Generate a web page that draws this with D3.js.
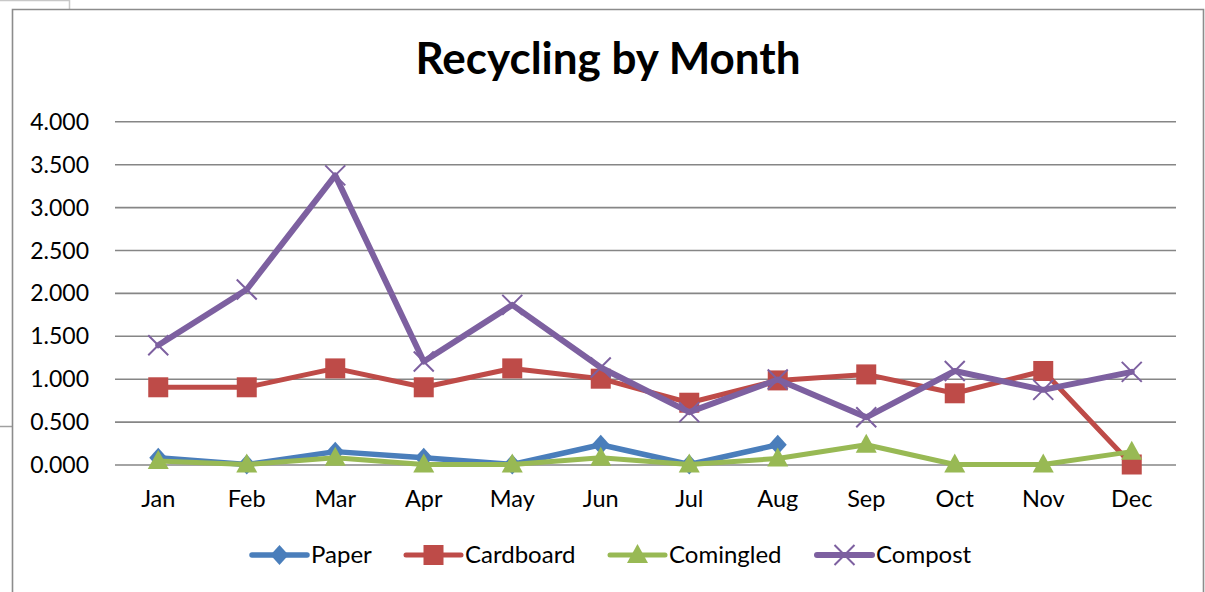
<!DOCTYPE html>
<html><head><meta charset="utf-8">
<script src="https://cdn.jsdelivr.net/npm/d3@7"></script>
<style>html,body{margin:0;padding:0;background:#fff;overflow:hidden}</style>
</head><body>
<svg id="c" width="1205" height="592"></svg>
<script>
const months = ["Jan","Feb","Mar","Apr","May","Jun","Jul","Aug","Sep","Oct","Nov","Dec"];
const paper     = [0.08, 0.00, 0.15, 0.08, 0.00, 0.23, 0.00, 0.23, null, null, null, null];
const cardboard = [0.90, 0.90, 1.12, 0.90, 1.12, 1.00, 0.72, 0.98, 1.05, 0.83, 1.09, 0.00];
const comingled = [0.04, 0.00, 0.08, 0.00, 0.00, 0.08, 0.00, 0.07, 0.23, 0.00, 0.00, 0.15];
const compost   = [1.39, 2.04, 3.37, 1.20, 1.86, 1.13, 0.61, 0.99, 0.55, 1.09, 0.87, 1.08];
const yTicks = [0, 0.5, 1, 1.5, 2, 2.5, 3, 3.5, 4];
const seriesNames = ["Paper","Cardboard","Comingled","Compost"];

const series = [
  {name: seriesNames[0], values: paper,     color: "#4a7ebb", marker: "diamond",  width: 5.5},
  {name: seriesNames[1], values: cardboard, color: "#be4b48", marker: "square",   width: 5},
  {name: seriesNames[2], values: comingled, color: "#98b954", marker: "triangle", width: 5},
  {name: seriesNames[3], values: compost,   color: "#7d60a0", marker: "x",        width: 6}
];

const svg = d3.select("#c");
const font = "Lato, 'Open Sans', sans-serif";

// outer decorations
svg.append("path").attr("d","M0,0.5H69.5V9").attr("fill","none").attr("stroke","#c8c8c8").attr("stroke-width",1.5);
svg.append("line").attr("x1",0).attr("x2",12).attr("y1",426.5).attr("y2",426.5).attr("stroke","#a0a0a0").attr("stroke-width",1.5);
// chart area border
svg.append("path").attr("d","M12.5,600V9.5H1203.5V600").attr("fill","none").attr("stroke","#8c8c8c").attr("stroke-width",1.6);

const x = d3.scaleBand().domain(months).range([114, 1176]);
const cx = d => x(d) + x.bandwidth()/2;
const y = d3.scaleLinear().domain([0, 4]).range([464.5, 121.3]);

// gridlines + y labels via axis
const yAxis = d3.axisLeft(y).tickValues(yTicks).tickSize(-(1176-115)).tickPadding(26).tickFormat(d3.format(".3f"));
const ga = svg.append("g").attr("transform","translate(115,0)").call(yAxis);
ga.select(".domain").remove();
ga.selectAll(".tick line").attr("stroke","#868686").attr("stroke-width",1.6);
ga.selectAll(".tick text").attr("font-family",font).attr("font-size",23).attr("fill","#000").attr("dy","0.35em");

// x labels
const xAxis = d3.axisBottom(x).tickSize(0).tickPadding(0);
const gx = svg.append("g").attr("transform","translate(0,464.5)").call(xAxis);
gx.select(".domain").remove();
gx.selectAll(".tick text").attr("font-family",font).attr("font-size",23.5).attr("fill","#000").attr("dy",null).attr("y",42);

function drawMarker(g, type, color, px, py) {
  if (type === "diamond") {
    g.append("path").attr("d", `M${px},${py-10}L${px+9},${py}L${px},${py+10}L${px-9},${py}Z`).attr("fill", color);
  } else if (type === "square") {
    g.append("rect").attr("x", px-10).attr("y", py-10).attr("width",20).attr("height",20).attr("fill", color);
  } else if (type === "triangle") {
    g.append("path").attr("d", `M${px},${py-11}L${px+10.5},${py+8}L${px-10.5},${py+8}Z`).attr("fill", color);
  } else if (type === "x") {
    g.append("path").attr("d", `M${px-10},${py-10}L${px+10},${py+10}M${px+10},${py-10}L${px-10},${py+10}`).attr("stroke", color).attr("stroke-width",2).attr("fill","none");
  }
}

const line = d3.line().defined(d => d.v !== null).x(d => cx(d.m)).y(d => y(d.v));
series.forEach(s => {
  const g = svg.append("g");
  const pts = months.map((m,i) => ({m, v: s.values[i]}));
  g.append("path").datum(pts).attr("d", line).attr("fill","none").attr("stroke", s.color)
    .attr("stroke-width", s.width).attr("stroke-linejoin","round").attr("stroke-linecap","round");
  pts.filter(p => p.v !== null).forEach(p => drawMarker(g, s.marker, s.color, cx(p.m), y(p.v)));
});

// title
svg.append("text").attr("x", 608).attr("y", 74).attr("text-anchor","middle")
  .attr("font-family", font).attr("font-weight","bold").attr("font-size",44).attr("fill","#000")
  .text("Recycling by Month");

// legend
const legendX = [252, 406, 610, 817];
const legendY = 555;
series.forEach((s, i) => {
  const g = svg.append("g");
  const x0 = legendX[i], x1 = x0 + 55;
  g.append("line").attr("x1", x0).attr("x2", x1).attr("y1", legendY).attr("y2", legendY)
    .attr("stroke", s.color).attr("stroke-width", s.width).attr("stroke-linecap","round");
  drawMarker(g, s.marker, s.color, (x0+x1)/2, legendY);
  g.append("text").attr("x", x1 + 4).attr("y", legendY).attr("dy","0.35em")
    .attr("font-family", font).attr("font-size", 24).attr("fill","#000").text(s.name);
});
</script>
</body></html>
